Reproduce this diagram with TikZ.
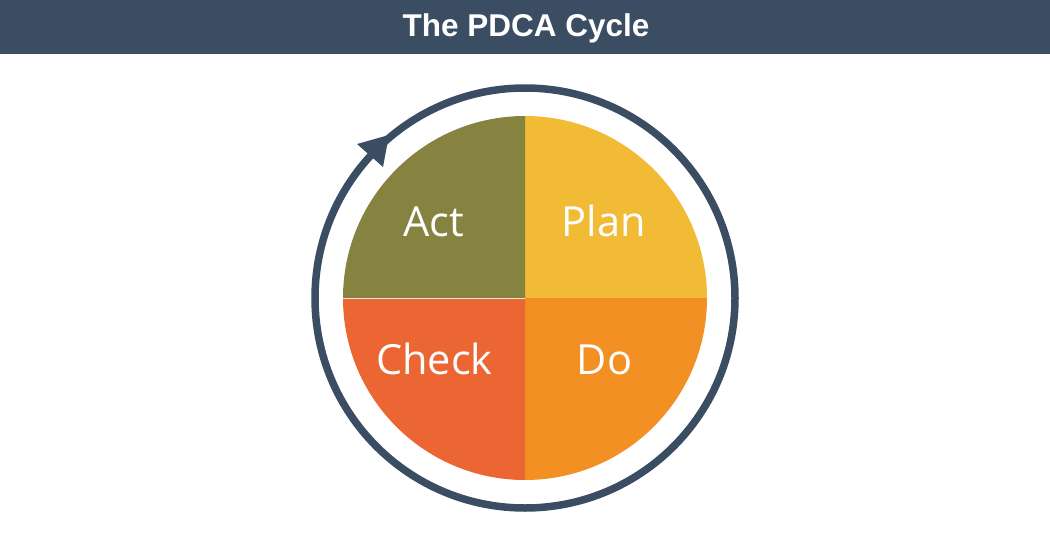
\documentclass[tikz,border=0pt]{standalone}
\usepackage{fontspec}
\setmainfont{Open Sans}
\newfontfamily\titlefont{Liberation Sans}
\definecolor{slate}{HTML}{3B4D63}
\definecolor{actc}{HTML}{868341}
\definecolor{planc}{HTML}{F2BB35}
\definecolor{doc}{HTML}{F29023}
\definecolor{checkc}{HTML}{EC6634}
\tikzset{
  quad/.style={draw=none},
  lbl/.style={text=white, font=\fontsize{41.5}{45}\selectfont, inner sep=0pt, anchor=base},
}
\begin{document}
\begin{tikzpicture}[x=1pt,y=-1pt]
\useasboundingbox (0,0) rectangle (1050,544);
\fill[white] (0,0) rectangle (1050,544);
\fill[slate] (0,0) rectangle (1050,54);
\node[text=white, font=\titlefont\bfseries\fontsize{31.5}{34}\selectfont, inner sep=0pt, anchor=base] (title) at (526,36) {The PDCA Cycle};
\coordinate (c) at (525,298);
% quadrants
\fill[planc] (c) -- ++(0,-182) arc[start angle=-90, end angle=0, radius=182] -- cycle;
\fill[doc] (c) -- ++(182,0) arc[start angle=0, end angle=90, radius=182] -- cycle;
\fill[checkc] (c) -- ++(0,182) arc[start angle=90, end angle=180, radius=182] -- cycle;
\fill[actc] (c) -- ++(-182,0) arc[start angle=180, end angle=270, radius=182] -- cycle;
\draw[white!80!actc, line width=0.8pt] (343,298) -- (c);
% ring
\draw[slate, line width=7.5pt] (c) circle[radius=210];
% arrow head
\fill[slate] (357,144) -- (389,135) -- (383,167) -- cycle;
% labels
\node[lbl] (act) at (433.5,236.5) {Act};
\node[lbl] (plan) at (604,236.5) {Plan};
\node[lbl] (check) at (434.5,374.5) {Check};
\node[lbl] (do) at (604.5,374.5) {Do};
\end{tikzpicture}
\end{document}
